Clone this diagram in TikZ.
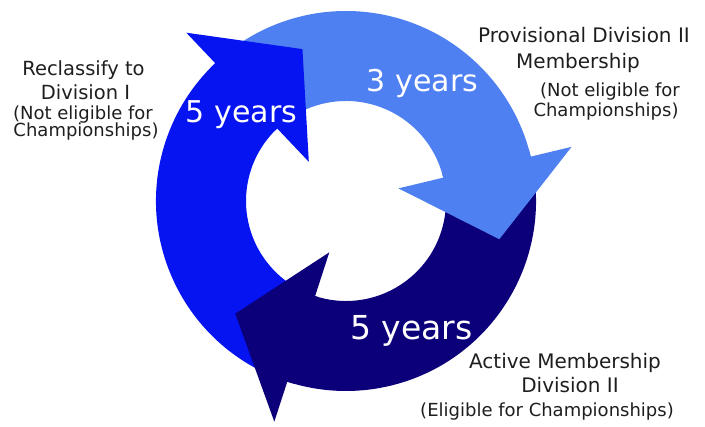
\documentclass[tikz,border=0pt]{standalone}
\usepackage{fontspec}
\setmainfont{DejaVu Sans}
\usetikzlibrary{calc}
\definecolor{lightarc}{RGB}{79,128,242}
\definecolor{midarc}{RGB}{5,20,240}
\definecolor{darkarc}{RGB}{12,0,122}
\definecolor{labeltext}{RGB}{30,30,30}
\tikzset{
  bigyears/.style={text=white, font=\fontsize{30}{36}\selectfont, anchor=base, inner sep=0pt},
  headlabel/.style={text=labeltext, font=\fontsize{20}{24}\selectfont, anchor=base, inner sep=0pt},
  sublabel/.style={text=labeltext, font=\fontsize{18}{21}\selectfont, anchor=base, inner sep=0pt},
}
\newcommand{\ringshaft}[3]{%
  \fill[#3] ($(C)+(#1:190)$) arc[start angle=#1, end angle=#2, radius=190]
    -- ($(C)+(#2:100)$) arc[start angle=#2, end angle=#1, radius=100] -- cycle;}
\newcommand{\ringhead}[3]{%
  \fill[#3] ($(C)+(#1+2:190)$) arc[start angle=#1+2, end angle=#1, radius=190]
    -- ($(C)+(#1:232)$) -- ($(C)+(#2:158)$) -- ($(C)+(#1:54)$)
    -- ($(C)+(#1:100)$) arc[start angle=#1, end angle=#1+2, radius=100] -- cycle;}
\begin{document}
\begin{tikzpicture}[x=1pt,y=1pt]
\useasboundingbox (0,0) rectangle (705,427);
\coordinate (C) at (346,226);
% shafts
\ringshaft{133.5}{13.5}{lightarc}
\ringshaft{13.5}{-108}{darkarc}
\ringshaft{252}{133.5}{midarc}
% heads
\ringhead{13.5}{-14}{lightarc}
\ringhead{-108}{-134.5}{darkarc}
\ringhead{133.5}{106}{midarc}
% years
\node[bigyears] (y5a) at (241.5,304) {5 years};
\node[bigyears] (y3) at (422.5,335) {3 years};
\node[bigyears, font=\fontsize{33}{38}\selectfont] (y5b) at (411.5,87) {5 years};
% left labels
\node[headlabel, font=\fontsize{19.5}{24}\selectfont] (l1) at (83.5,351) {Reclassify to};
\node[headlabel, font=\fontsize{19.5}{24}\selectfont] (l2) at (85.5,327) {Division I};
\node[sublabel] (l3) at (83,307) {(Not eligible for};
\node[sublabel] (l4) at (86,290) {Championships)};
% right top labels
\node[headlabel] (r1) at (584,384) {Provisional Division II};
\node[headlabel] (r2) at (578,358) {Membership};
\node[sublabel] (r3) at (610,330) {(Not eligible for};
\node[sublabel] (r4) at (606,310) {Championships)};
% bottom right labels
\node[headlabel] (b1) at (565,58) {Active Membership};
\node[headlabel] (b2) at (570,34) {Division II};
\node[sublabel] (b3) at (547,10) {(Eligible for Championships)};
\end{tikzpicture}
\end{document}
